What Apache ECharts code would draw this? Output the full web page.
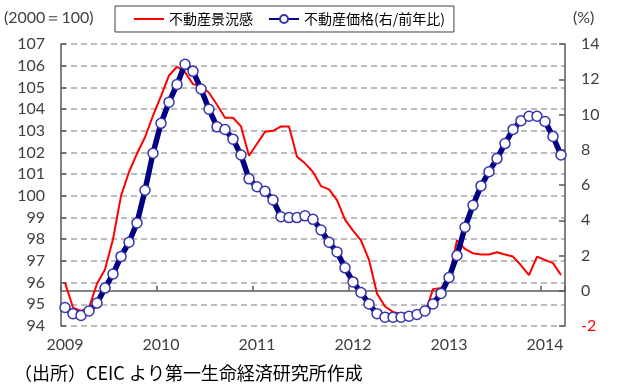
<!DOCTYPE html>
<html>
<head>
<meta charset="utf-8">
<script src="https://cdn.jsdelivr.net/npm/echarts@6/dist/echarts.min.js"></script>
<style>
  html, body { margin: 0; padding: 0; background: #fff; }
  #chart { width: 617px; height: 389px; }
</style>
</head>
<body>
<div id="chart"></div>
<script>
// Monthly observations, Jan 2009 – Mar 2014
const years = ['2009', '2010', '2011', '2012', '2013', '2014'];
const lastMonth = 3; // data end in March of the final year

// 不動産景況感 (2000 = 100, left axis)
const sentiment = [
  96.0, 94.85, 94.7, 94.85, 95.95, 96.6, 98.0, 100.0, 101.1, 101.95, 102.7, 103.7,
  104.6, 105.55, 105.95, 105.7, 105.15, 105.05, 104.75, 104.2, 103.6, 103.6, 103.2, 101.85,
  102.4, 102.95, 103.0, 103.2, 103.2, 101.8, 101.5, 101.1, 100.45, 100.3, 99.8, 98.9,
  98.4, 97.95, 97.05, 95.5, 94.9, 94.65, 94.55, 94.6, 94.6, 94.55, 95.7, 95.75,
  96.2, 97.95, 97.55, 97.35, 97.3, 97.3, 97.4, 97.3, 97.2, 96.8, 96.35, 97.2,
  97.05, 96.9, 96.35
];

// 不動産価格 year-on-year change, % (right axis)
const priceYoY = [
  -0.95, -1.3, -1.4, -1.15, -0.7, 0.15, 0.95, 1.95, 2.75, 3.85, 5.7, 7.8,
  9.5, 10.7, 11.7, 12.85, 12.45, 11.45, 10.3, 9.3, 9.15, 8.6, 7.7, 6.35,
  5.9, 5.65, 5.15, 4.2, 4.15, 4.15, 4.25, 4.05, 3.45, 2.75, 2.2, 1.3,
  0.5, -0.1, -0.75, -1.3, -1.5, -1.5, -1.5, -1.45, -1.35, -1.15, -0.75, -0.15,
  0.75, 2.0, 3.6, 4.85, 5.95, 6.75, 7.5, 8.35, 9.15, 9.65, 9.9, 9.9,
  9.6, 8.75, 7.7
];

const seriesNames = ['不動産景況感', '不動産価格(右/前年比)'];
const leftUnit = '(2000＝100)';
const rightUnit = '(%)';
const sourceNote = '（出所）CEIC より第一生命経済研究所作成';

// month categories such as "2009/1"
const categories = [];
years.forEach((y, yi) => {
  const n = yi === years.length - 1 ? lastMonth : 12;
  for (let m = 1; m <= n; m++) categories.push(y + '/' + m);
});

const axisColor = '#595959';
const labelColor = '#404040';
const numFont = 'Lato';
const cjkFont = '"Noto Sans CJK JP"';

const chart = echarts.init(document.getElementById('chart'), null, { renderer: 'canvas' });

chart.setOption({
  animation: false,
  backgroundColor: '#fff',
  grid: { left: 61, right: 52, top: 44, bottom: 63, containLabel: false },
  legend: {
    left: 115,
    top: 6,
    padding: [6, 9, 6, 18],
    borderColor: '#404040',
    borderWidth: 1,
    itemGap: 15,
    itemWidth: 30,
    itemHeight: 10,
    textStyle: { fontFamily: cjkFont, fontSize: 14, color: '#000' },
    data: [
      { name: seriesNames[0], itemStyle: { opacity: 0 } },
      { name: seriesNames[1] }
    ]
  },
  xAxis: {
    type: 'category',
    data: categories,
    boundaryGap: true,
    axisLine: { lineStyle: { color: axisColor, width: 1.5 } },
    axisTick: { show: true, inside: true, interval: 11, length: 5, lineStyle: { color: axisColor, width: 1.5 } },
    axisLabel: {
      interval: 11,
      margin: 11,
      color: labelColor,
      fontFamily: numFont,
      fontSize: 16,
      formatter: v => v.split('/')[0]
    },
    splitLine: { show: false }
  },
  yAxis: [
    {
      type: 'value',
      position: 'left',
      min: 94, max: 107, interval: 1,
      axisLine: { show: true, lineStyle: { color: axisColor, width: 1.5 } },
      axisTick: { show: true, inside: true, length: 5, lineStyle: { color: axisColor, width: 1.5 } },
      axisLabel: { margin: 16, color: labelColor, fontFamily: numFont, fontSize: 16 },
      splitLine: { show: true, lineStyle: { color: '#a6a6a6', width: 1.5, type: [6, 4] } }
    },
    {
      type: 'value',
      position: 'right',
      min: -2, max: 14, interval: 2,
      axisLine: { show: true, lineStyle: { color: axisColor, width: 1.5 } },
      axisTick: { show: true, inside: true, length: 6, lineStyle: { color: axisColor, width: 1.5 } },
      axisLabel: {
        margin: 16,
        fontFamily: numFont,
        fontSize: 16,
        color: v => (Number(v) < 0 ? '#ff0000' : labelColor)
      },
      splitLine: { show: false }
    }
  ],
  series: [
    {
      name: seriesNames[0],
      type: 'line',
      yAxisIndex: 0,
      data: sentiment,
      symbol: 'none',
      lineStyle: { color: '#ff0000', width: 2 },
      itemStyle: { color: '#ff0000' },
      z: 2
    },
    {
      name: seriesNames[1],
      type: 'line',
      yAxisIndex: 1,
      data: priceYoY,
      symbol: 'circle',
      symbolSize: 10,
      showSymbol: true,
      showAllSymbol: true,
      lineStyle: { color: '#000080', width: 5.5 },
      itemStyle: { color: '#ffffff', borderColor: '#3535b0', borderWidth: 1.5 },
      z: 3
    }
  ],
  graphic: [
    { type: 'text', left: 4, top: 10, style: { text: leftUnit, font: '16px ' + numFont, fill: labelColor } },
    { type: 'text', left: 573, top: 10, style: { text: rightUnit, font: '16px ' + numFont, fill: labelColor } },
    { type: 'text', left: 14, top: 364, style: { text: sourceNote, font: '18px ' + cjkFont, fill: '#000' } }
  ]
});
</script>
</body>
</html>
